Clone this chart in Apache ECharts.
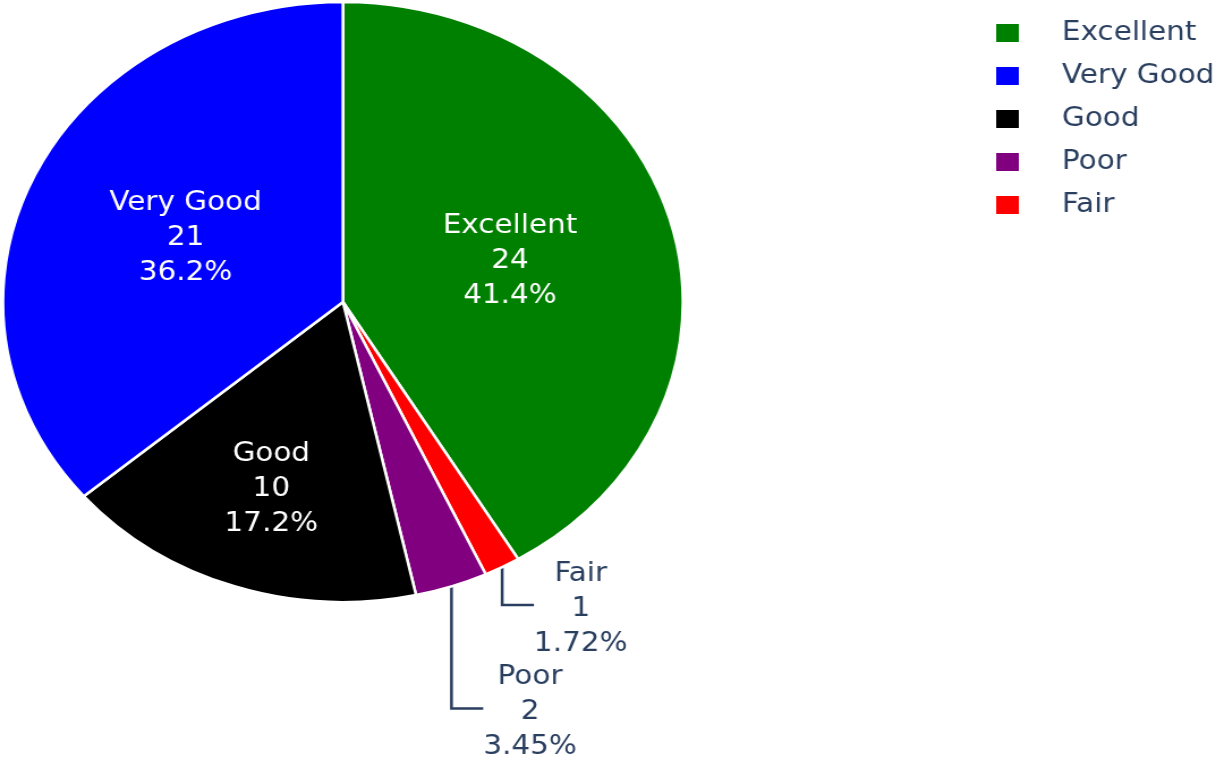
<!DOCTYPE html>
<html>
<head>
<meta charset="UTF-8">
<title>Ratings pie</title>
<script src="https://cdn.jsdelivr.net/npm/echarts@6/dist/echarts.min.js"></script>
<style type="text/css">
  html, body { margin: 0; padding: 0; background: #fff; overflow: hidden; }
  /* reference picture is stretched horizontally, so draw narrower and stretch */
  #main { width: 1080px; height: 763px; transform: scaleX(1.1333); transform-origin: 0 0; }
</style>
</head>
<body>
<div id="main"></div>
<script type="text/javascript">
  var categories = ['Excellent', 'Fair', 'Poor', 'Good', 'Very Good'];
  var counts = [24, 1, 2, 10, 21];
  var legendOrder = ['Excellent', 'Very Good', 'Good', 'Poor', 'Fair'];
  var colors = ['#008000', '#ff0000', '#800080', '#000000', '#0000ff'];
  var outsideLabels = ['Fair', 'Poor'];

  var textColor = '#2a3f5f';
  var font = 'DejaVu Sans';
  var center = [302.6, 302];
  var hook = 28;

  var total = 0;
  counts.forEach(function (v) { total += v; });

  function pct(v) {
    return (v / total * 100).toPrecision(3) + '%';
  }

  var leader = {
    'Fair': { length: 43, length2: 10 },
    'Poor': { length: 129, length2: 10 }
  };

  var data = categories.map(function (name, i) {
    var item = {
      name: name,
      value: counts[i],
      itemStyle: { color: colors[i] }
    };
    if (outsideLabels.indexOf(name) >= 0) {
      item.label = {
        position: 'outside',
        color: textColor,
        distanceToLabelLine: 0,
        formatter: function (p) {
          return '{a|' + p.name + '}\n{a|' + p.value + '}\n{a|' + pct(p.value) + '}';
        },
        rich: {
          a: { align: 'center', color: textColor, fontSize: 26, lineHeight: 35, fontFamily: font }
        }
      };
      item.labelLine = {
        show: true,
        length: leader[name].length,
        length2: leader[name].length2,
        smooth: false,
        lineStyle: { color: textColor, width: 2.5 }
      };
    }
    return item;
  });

  var myChart = echarts.init(document.getElementById('main'));

  var option = {
    animation: false,
    backgroundColor: '#ffffff',
    legend: {
      data: legendOrder,
      orient: 'vertical',
      left: 872,
      top: 15,
      itemWidth: 22,
      itemHeight: 20,
      itemGap: 17,
      icon: 'rect',
      selectedMode: false,
      textStyle: {
        color: textColor,
        fontSize: 26,
        fontFamily: font,
        lineHeight: 24,
        padding: [0, 0, 0, 32]
      }
    },
    series: [{
      type: 'pie',
      center: center,
      radius: 300,
      startAngle: 90,
      clockwise: true,
      avoidLabelOverlap: false,
      itemStyle: { borderColor: '#ffffff', borderWidth: 2.5 },
      emphasis: { disabled: true },
      label: {
        position: 'inside',
        color: '#ffffff',
        fontSize: 26,
        lineHeight: 35,
        fontFamily: font,
        formatter: function (p) {
          return p.name + '\n' + p.value + '\n' + pct(p.value);
        }
      },
      labelLine: { show: false },
      labelLayout: function (p) {
        var name = categories[p.dataIndex];
        var pts = p.labelLinePoints;
        if (outsideLabels.indexOf(name) >= 0 && pts) {
          var y = pts[1][1];
          var x0 = pts[0][0];
          return {
            labelLinePoints: [pts[0], [x0, y], [x0 + hook, y]],
            dx: x0 + hook - pts[2][0],
            dy: 4
          };
        }
        if (name === 'Good') {
          // push the label further out, like the reference does for narrower slices
          var r = p.labelRect;
          var mx = r.x + r.width / 2 - center[0];
          var my = r.y + r.height / 2 - center[1];
          var k = 0.66 * 300 / Math.sqrt(mx * mx + my * my) - 1;
          return { dx: mx * k, dy: my * k };
        }
        return {};
      },
      data: data
    }]
  };

  myChart.setOption(option);
</script>
</body>
</html>
